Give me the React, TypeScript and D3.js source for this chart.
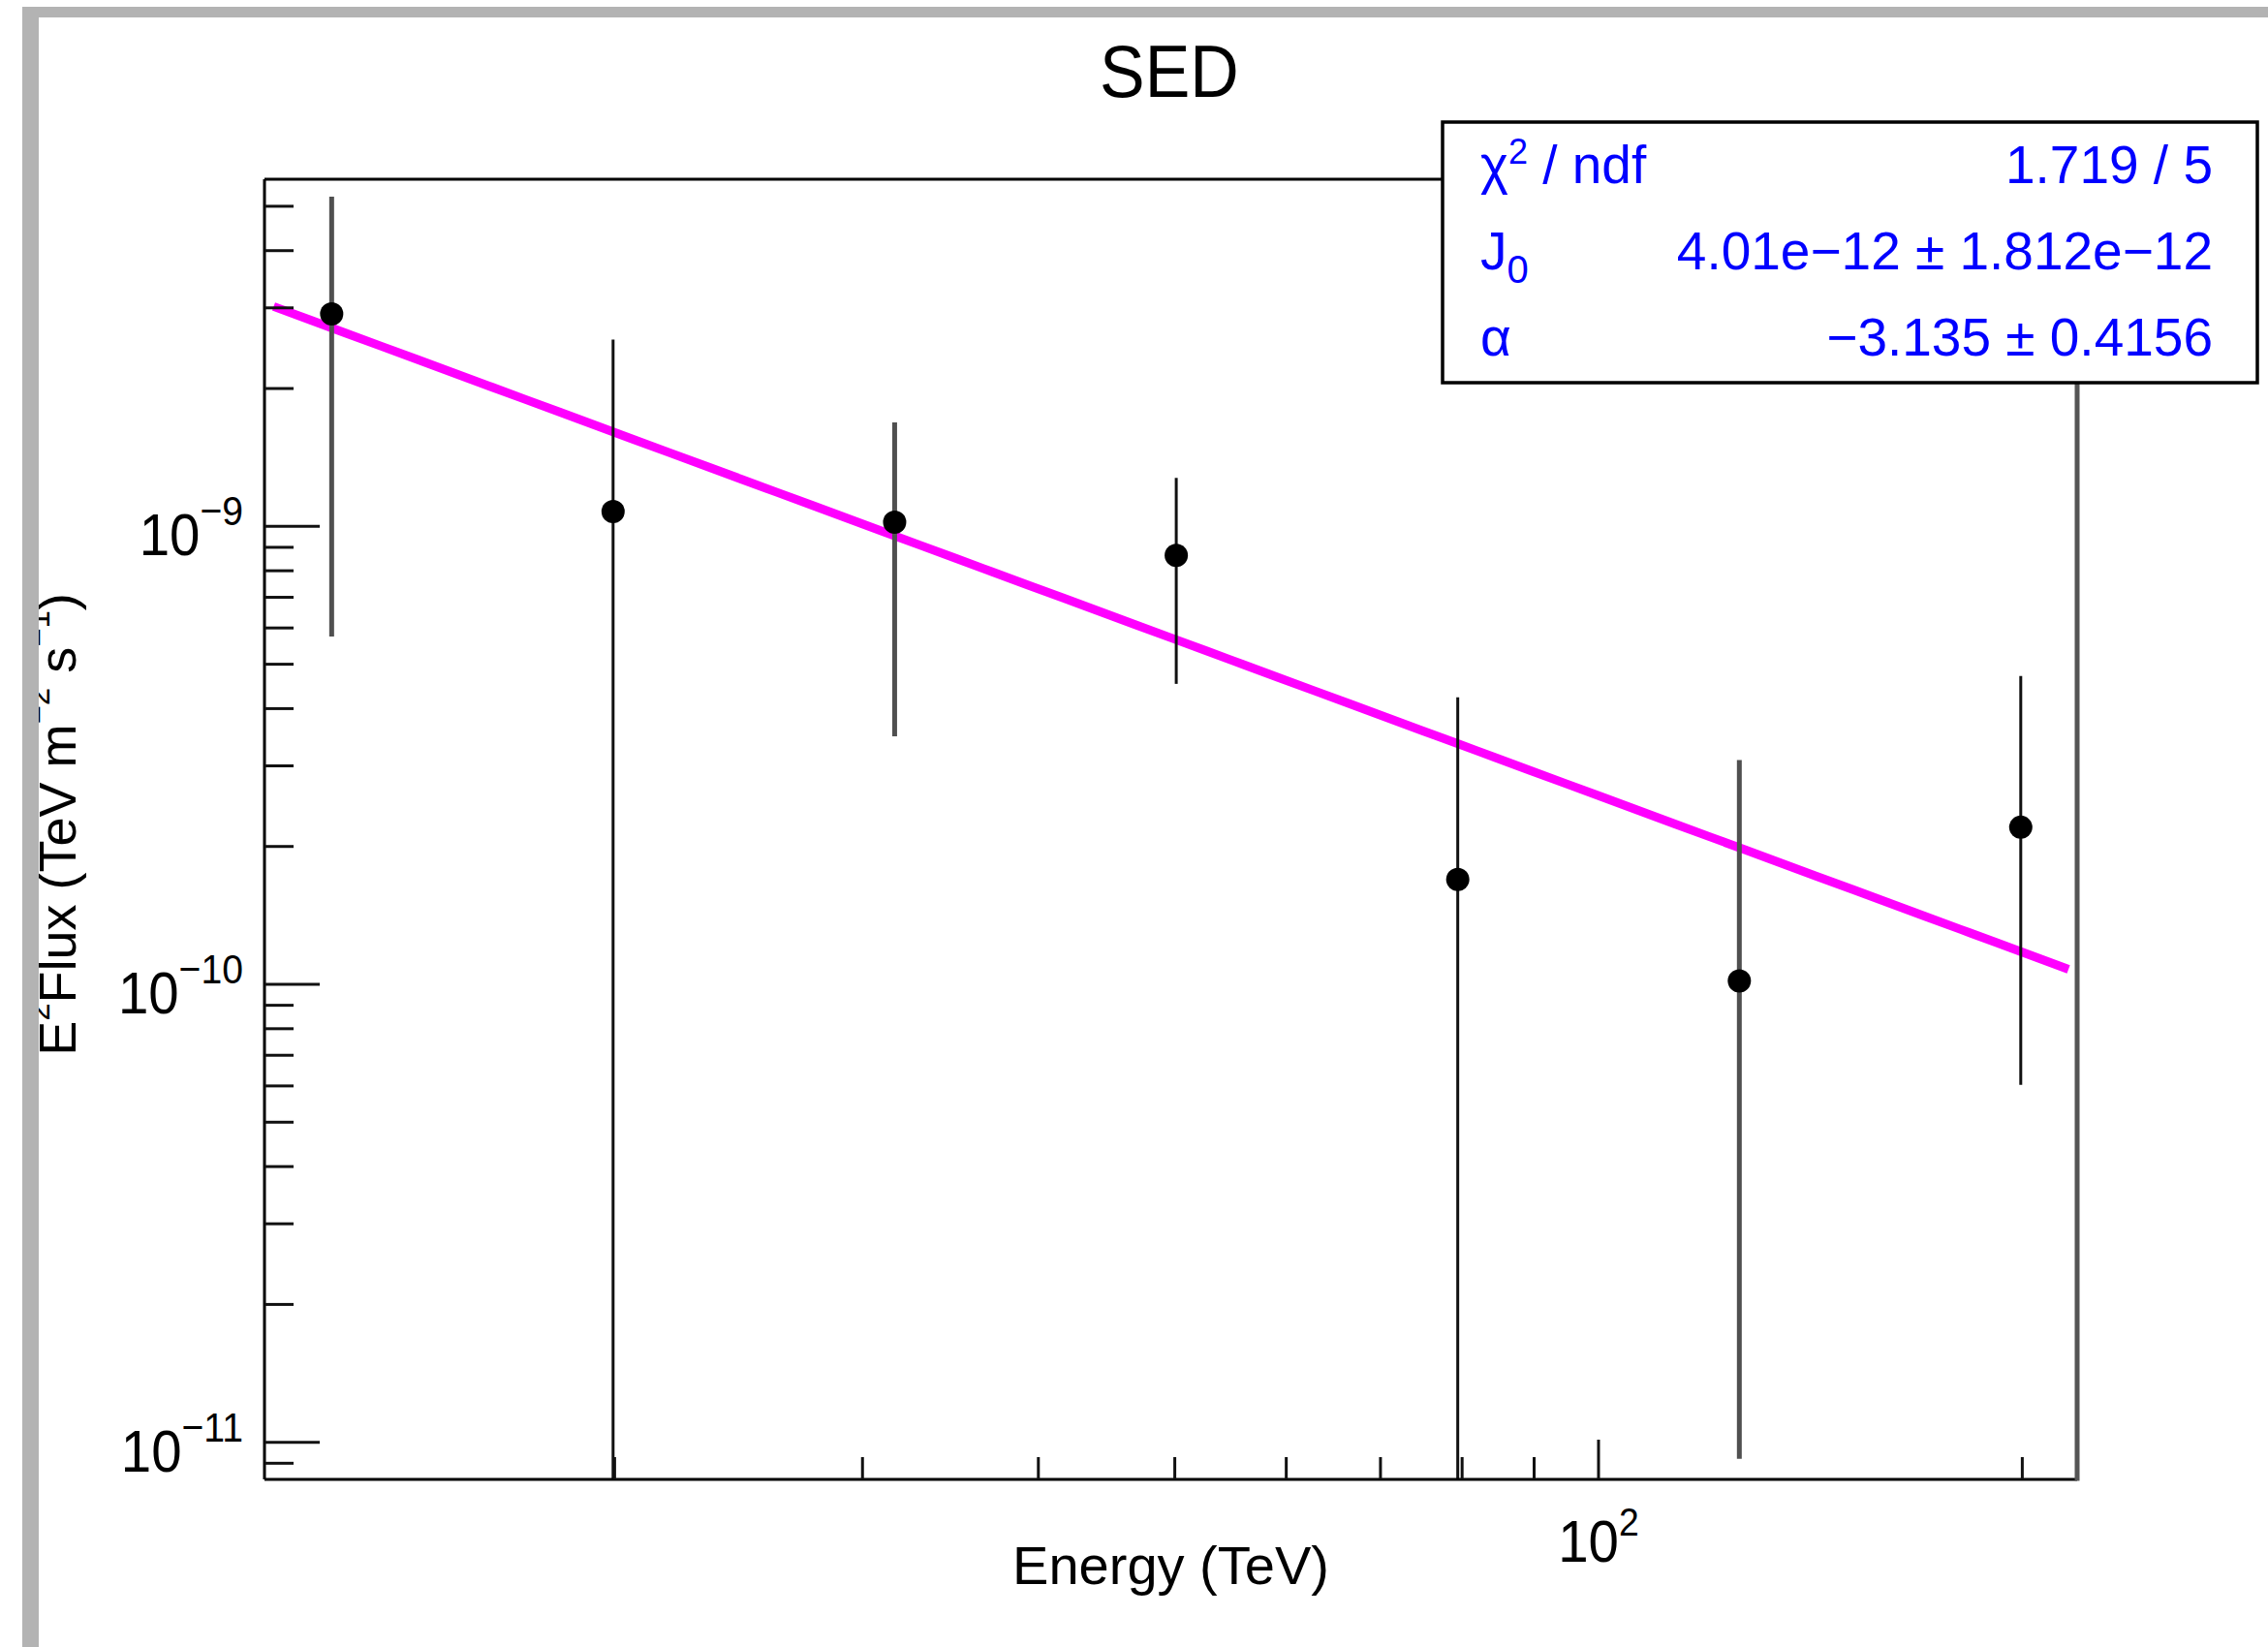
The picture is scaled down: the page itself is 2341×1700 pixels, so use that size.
import React from "react";
import * as d3 from "d3";

// Spectral energy distribution points (TeV, TeV m^-2 s^-1)
const energies = [12.59, 19.95, 31.62, 50.12, 79.43, 125.9, 199.5];
const flux = [2.91e-9, 1.077e-9, 1.021e-9, 8.64e-10, 1.694e-10, 1.017e-10, 2.203e-10];
const errUp = [2.34e-9, 1.48e-9, 0.666e-9, 0.412e-9, 2.54e-10, 2.07e-10, 2.51e-10];
const errDown = [2.335e-9, 1.48e-9, 0.673e-9, 0.411e-9, 2.54e-10, 0.925e-10, 1.6e-10];

// Power-law fit: E^2 * J0 * (E/E0)^alpha
const fitJ0 = 4.01e-12;
const fitAlpha = -3.135;
const fitE0 = 20;
const fitRange = [11.45, 215.7];

const statsLabels = ["χ", "J", "α"];
const statsValues = ["1.719 / 5", "4.01e−12 ± 1.812e−12", "−3.135 ± 0.4156"];

const xDomain = [Math.pow(10, 1.0523), Math.pow(10, 2.34)];
const yDomain = [Math.pow(10, -11.081), Math.pow(10, -8.242)];

const W = 2341;
const H = 1700;
const frame = { left: 273, right: 2144, top: 185, bottom: 1527 };
const FONT = "'Liberation Sans', Arial, Helvetica, sans-serif";

// bars rendered with the softer, wider grey stroke
const softBarIndex = new Set([0, 2, 5]);

export default function App() {
  const x = d3.scaleLog().domain(xDomain).range([frame.left, frame.right]);
  const y = d3.scaleLog().domain(yDomain).range([frame.bottom, frame.top]);

  const yTicks = y.ticks().filter((v) => v >= yDomain[0] && v <= yDomain[1]);
  const xTicks = x.ticks().filter((v) => v >= xDomain[0] && v <= xDomain[1]);
  const isMajor = (v: number) => Math.abs(Math.log10(v) - Math.round(Math.log10(v))) < 1e-6;

  const fitFn = (e: number) => e * e * fitJ0 * Math.pow(e / fitE0, fitAlpha);
  const fitPts = d3.range(0, 51).map((i) => {
    const le = Math.log10(fitRange[0]) + (i / 50) * (Math.log10(fitRange[1]) - Math.log10(fitRange[0]));
    const e = Math.pow(10, le);
    return [e, fitFn(e)] as [number, number];
  });
  const fitPath = d3
    .line<[number, number]>()
    .x((d) => x(d[0]))
    .y((d) => y(d[1]))(fitPts);

  const yPos = (v: number) => (v <= yDomain[0] ? frame.bottom : Math.max(frame.top, y(v)));

  const rowBase = [189, 278, 367];

  return (
    <svg
      width={W}
      height={H}
      style={{ position: "absolute", left: 0, top: 0, background: "#fff" }}
      fontFamily={FONT}
    >
      <rect x={0} y={0} width={W} height={H} fill="#fff" />

      {/* title */}
      <text x={1207} y={100} fontSize={76} textAnchor="middle" transform="translate(1207,0) scale(0.92,1) translate(-1207,0)">
        SED
      </text>

      {/* fit curve */}
      <path d={fitPath || ""} fill="none" stroke="#ff00ff" strokeWidth={9} />

      {/* error bars */}
      {energies.map((e, i) => (
        <line
          key={"eb" + i}
          x1={x(e)}
          x2={x(e)}
          y1={yPos(flux[i] + errUp[i])}
          y2={yPos(flux[i] - errDown[i])}
          stroke={softBarIndex.has(i) ? "#505050" : "#111"}
          strokeWidth={softBarIndex.has(i) ? 5 : 3}
        />
      ))}

      {/* markers */}
      {energies.map((e, i) => (
        <circle key={"m" + i} cx={x(e)} cy={y(flux[i])} r={12} fill="#000" />
      ))}

      {/* frame */}
      <line x1={frame.left} x2={frame.right} y1={frame.top} y2={frame.top} stroke="#000" strokeWidth={3} />
      <line x1={frame.left} x2={frame.right} y1={frame.bottom} y2={frame.bottom} stroke="#000" strokeWidth={3} />
      <line x1={frame.left} x2={frame.left} y1={frame.top} y2={frame.bottom} stroke="#000" strokeWidth={3} />
      <line x1={frame.right} x2={frame.right} y1={frame.top} y2={frame.bottom + 1.5} stroke="#555" strokeWidth={5} />

      {/* y ticks */}
      {yTicks.map((v, i) => (
        <line
          key={"yt" + i}
          x1={frame.left}
          x2={frame.left + (isMajor(v) ? 57 : 30)}
          y1={y(v)}
          y2={y(v)}
          stroke="#111"
          strokeWidth={3}
        />
      ))}
      {yTicks.filter(isMajor).map((v, i) => (
        <text
          key={"yl" + i}
          x={251}
          y={y(v) + 30}
          fontSize={62}
          textAnchor="end"
          transform={`translate(251,0) scale(0.91,1) translate(-251,0)`}
        >
          10
          <tspan dy={-31} fontSize={43}>
            {"−" + Math.abs(Math.round(Math.log10(v)))}
          </tspan>
        </text>
      ))}

      {/* x ticks */}
      {xTicks.map((v, i) => (
        <line
          key={"xt" + i}
          x1={x(v)}
          x2={x(v)}
          y1={frame.bottom}
          y2={frame.bottom - (isMajor(v) ? 41 : 23)}
          stroke="#111"
          strokeWidth={3}
        />
      ))}
      {xTicks.filter(isMajor).map((v, i) => (
        <text
          key={"xl" + i}
          x={x(v)}
          y={1612}
          fontSize={62}
          textAnchor="middle"
          transform={`translate(${x(v)},0) scale(0.91,1) translate(${-x(v)},0)`}
        >
          10
          <tspan dy={-27} fontSize={41}>
            {String(Math.round(Math.log10(v)))}
          </tspan>
        </text>
      ))}

      {/* axis titles */}
      <text x={(frame.left + frame.right) / 2} y={1635} fontSize={56} textAnchor="middle">
        Energy (TeV)
      </text>
      <text transform="translate(78,851) rotate(-90)" fontSize={54} textAnchor="middle">
        E<tspan dy={-27} fontSize={33}>2</tspan>
        <tspan dy={27} fontSize={54}>Flux (TeV m</tspan>
        <tspan dy={-27} fontSize={33}>−2</tspan>
        <tspan dy={27} fontSize={54}> s</tspan>
        <tspan dy={-27} fontSize={33}>−1</tspan>
        <tspan dy={27} fontSize={54}>)</tspan>
      </text>

      {/* statistics box */}
      <rect x={1489} y={126} width={841} height={269} fill="#fff" stroke="#000" strokeWidth={3.5} />
      <g fill="#0000ff" fontSize={55}>
        <text x={1528} y={rowBase[0]}>
          {statsLabels[0]}
          <tspan dy={-20} fontSize={36}>2</tspan>
          <tspan dy={20} fontSize={55}> / ndf</tspan>
        </text>
        <text x={1528} y={rowBase[1]}>
          {statsLabels[1]}
          <tspan dy={14} fontSize={40}>0</tspan>
        </text>
        <text x={1528} y={rowBase[2]}>{statsLabels[2]}</text>
        {statsValues.map((s, i) => (
          <text key={"sv" + i} x={2284} y={rowBase[i]} textAnchor="end">
            {s}
          </text>
        ))}
      </g>

      {/* window border */}
      <rect x={23} y={7} width={17} height={H - 7} fill="#b3b3b3" />
      <rect x={23} y={7} width={W - 23} height={11} fill="#b3b3b3" />
    </svg>
  );
}
